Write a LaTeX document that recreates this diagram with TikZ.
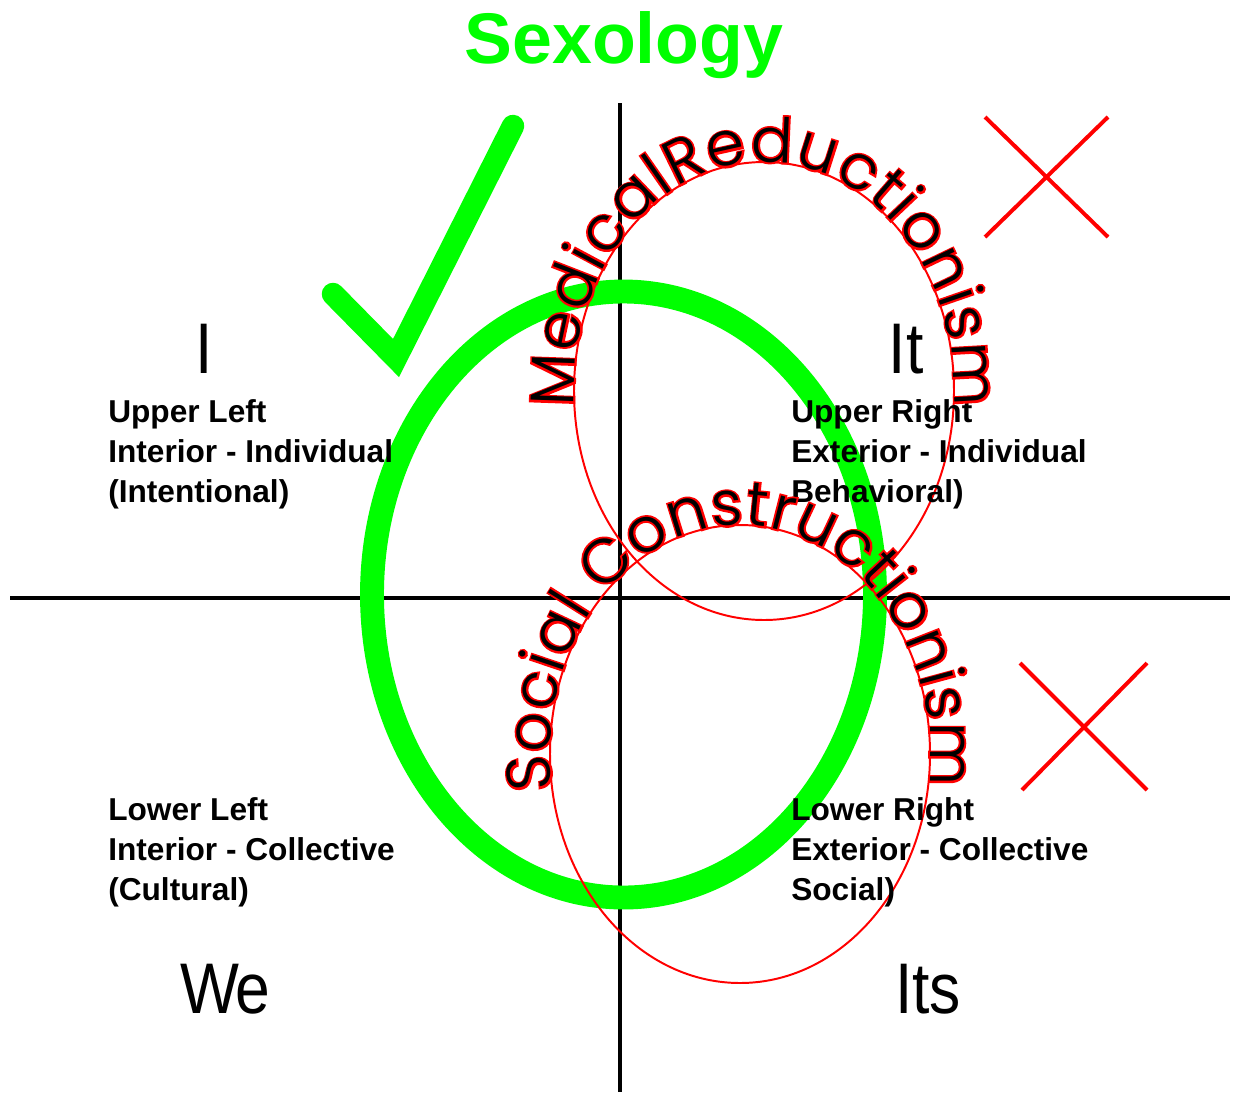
\documentclass[tikz,border=0pt]{standalone}
\usepackage{fontspec}
\setmainfont{Liberation Sans}
% 弧形文字字体:细体优先,红色描边层加粗
\IfFontExistsTF{Poppins Light}{%
    \newfontfamily\arcfont{Poppins Light}
    \newfontfamily\arcrim{Poppins Light}[FakeBold=6]
}{%
    \IfFontExistsTF{Poppins ExtraLight}{%
        \newfontfamily\arcfont{Poppins ExtraLight}
        \newfontfamily\arcrim{Poppins ExtraLight}[FakeBold=6]
    }{%
        \newfontfamily\arcfont{Poppins}
        \newfontfamily\arcrim{Poppins}[FakeBold=6]
    }
}
\usepackage{tikz}
\usetikzlibrary{decorations.text, calc}

\begin{document}
\begin{tikzpicture}[
    x=0.025cm, y=-0.025cm, % 以像素为单位,y轴向下
    axis/.style={black, line width=3.5pt}, % 坐标轴
    ring/.style={red, line width=1.4pt}, % 红色细椭圆
    oval/.style={green, line width=17pt}, % 绿色粗椭圆
    check/.style={green, line width=16pt, line cap=round, line join=miter}, % 对勾
    cross/.style={red, line width=2.8pt}, % 红叉
    quad/.style={font=\fontsize{22.5}{28.35}\selectfont\bfseries, align=left, anchor=base west, inner sep=0pt}, % 基线在最后一行
    big/.style={font=\fontsize{51}{51}\selectfont, anchor=base, inner sep=0pt, xscale=0.87},
    title/.style={green, font=\fontsize{51}{51}\selectfont\bfseries, anchor=base, inner sep=0pt},
    rimtext/.style={decorate, decoration={text along path, text align={fit to path}, text color=red,
        text={|\arcrim\fontsize{44}{44}\selectfont|#1}}},
    inktext/.style={decorate, decoration={text along path, text align={fit to path}, text color=black,
        text={|\arcfont\fontsize{44}{44}\selectfont|#1}}}
]
    \useasboundingbox (0,0) rectangle (1236,1094);

    % 1. 坐标轴
    \draw[axis] (620,103) -- (620,1092);
    \draw[axis] (10,598) -- (1230,598);

    % 2. 椭圆:绿色(Sexology)与两个红色
    \coordinate (mid) at (623.5,594.5);
    \coordinate (up) at (764,391);
    \coordinate (lo) at (740,754);
    \draw[oval] (mid) ellipse [x radius=251.5, y radius=303];
    \draw[ring] (up) ellipse [x radius=190, y radius=229];
    \draw[ring] (lo) ellipse [x radius=190, y radius=229];

    % 3. 对勾和红叉
    \draw[check] (333,294) -- (396,358) -- (513,126);
    \draw[cross] (985,117) -- (1108,237);
    \draw[cross] (1108,117) -- (985,237);
    \draw[cross] (1020,663) -- (1147,790);
    \draw[cross] (1147,663) -- (1022,790);

    % 4. 标题与象限文字
    \node[title] (title) at (624,63) {Sexology};
    \node[big] (i) at (204,373) {I};
    \node[big] (it) at (906,373) {It};
    \node[big] (we) at (225,1013) {W\kern-0.06em e};
    \node[big] (its) at (928,1013) {Its};
    \node[quad] (ul) at (108,502) {Upper Left\\Interior - Individual\\(Intentional)};
    \node[quad] (ur) at (791,502) {Upper Right\\Exterior - Individual\\Behavioral)};
    \node[quad] (ll) at (108,900) {Lower Left\\Interior - Collective\\(Cultural)};
    \node[quad] (lr) at (791,900) {Lower Right\\Exterior - Collective\\Social)};

    % 5. 沿椭圆的弧形文字(先红色描边,再黑色)
    \path[rimtext=MedicalReductionism] ($(up)+(176:190 and 229)$)
        arc[start angle=176, end angle=364, x radius=190, y radius=229];
    \path[inktext=MedicalReductionism] ($(up)+(176:190 and 229)$)
        arc[start angle=176, end angle=364, x radius=190, y radius=229];
    \path[rimtext=Social Constructionism] ($(lo)+(171:190 and 229)$)
        arc[start angle=171, end angle=368, x radius=190, y radius=229];
    \path[inktext=Social Constructionism] ($(lo)+(171:190 and 229)$)
        arc[start angle=171, end angle=368, x radius=190, y radius=229];

\end{tikzpicture}
\end{document}
